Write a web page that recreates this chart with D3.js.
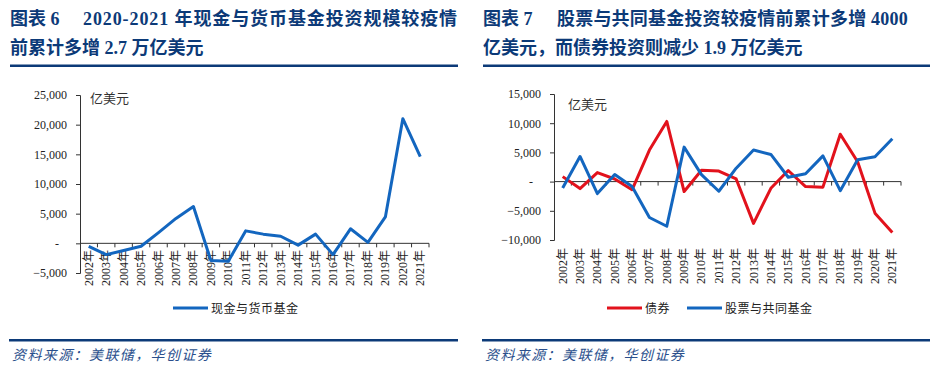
<!DOCTYPE html>
<html>
<head>
<meta charset="utf-8">
<script src="https://cdn.jsdelivr.net/npm/d3@7"></script>
<style>
  body { margin: 0; background: #fff; }
  svg { display: block; }
  text { font-family: "Liberation Serif", "Noto Sans CJK SC", serif; }
</style>
</head>
<body>
<svg width="938" height="379"></svg>
<script>
var years = ["2002年","2003年","2004年","2005年","2006年","2007年","2008年","2009年","2010年","2011年",
             "2012年","2013年","2014年","2015年","2016年","2017年","2018年","2019年","2020年","2021年"];

// 现金与货币基金 (亿美元)
var cashFunds = [-500, -1900, -1200, -500, 1800, 4200, 6200, -2900, -3000, 2100,
                 1550, 1200, -300, 1550, -1900, 2450, 150, 4450, 21000, 14600];
// 债券
var bonds = [850, -1200, 1550, 450, -1400, 5400, 10300, -1700, 1950, 1800,
             450, -7150, -1150, 1900, -850, -950, 8100, 3400, -5400, -8700];
// 股票与共同基金
var equities = [-1100, 4300, -2050, 1200, -850, -6150, -7650, 5900, 1200, -1650,
                2300, 5400, 4650, 750, 1350, 4400, -1550, 3750, 4250, 7350];

var leftTicks = [-5000, 0, 5000, 10000, 15000, 20000, 25000];
var rightTicks = [-10000, -5000, 0, 5000, 10000, 15000];

var navy = "#0c3a78", blue = "#1366bf", red = "#e2121c";

var svg = d3.select("svg");

// headings, rules, source
function header(x0, x1, num, restX, spacing, line1, line2) {
  var g = svg.append("g").attr("fill", navy).style("font-weight", "bold").style("font-size", "18px");
  g.append("text").attr("x", x0).attr("y", 25).text("图表 " + num);
  g.append("text").attr("x", restX).attr("y", 25).style("letter-spacing", spacing + "px").text(line1);
  g.append("text").attr("x", x0).attr("y", 54).text(line2);
  svg.append("rect").attr("x", x0).attr("y", 64.5).attr("width", x1 - x0).attr("height", 2.5).attr("fill", navy);
  svg.append("rect").attr("x", x0 - 1).attr("y", 339).attr("width", x1 - x0 + 1).attr("height", 2.5).attr("fill", navy);
  svg.append("text").attr("x", x0 + 2).attr("y", 360)
    .attr("fill", "#2a4f8c").style("font-style", "italic").style("font-size", "14px")
    .style("letter-spacing", "1.4px")
    .text("资料来源：美联储，华创证券");
}

header(10, 458, "6", 83, 0.9, "2020-2021 年现金与货币基金投资规模较疫情", "前累计多增 2.7 万亿美元");
header(483, 930, "7", 557, 0.2, "股票与共同基金投资较疫情前累计多增 4000", "亿美元，而债券投资则减少 1.9 万亿美元");

function chart(opt) {
  var x = d3.scaleBand().domain(years).range(opt.xRange).padding(0);
  var y = d3.scaleLinear().domain(opt.yDomain).range(opt.yRange);
  var g = svg.append("g");

  // y axis
  var yAxis = d3.axisLeft(y).tickValues(opt.ticks).tickSize(4).tickPadding(9)
    .tickFormat(function(d) { return d === 0 ? "-" : d3.format(",")(d); });
  var ya = g.append("g").attr("transform", "translate(" + opt.xRange[0] + ",0)").call(yAxis);
  ya.select(".domain").attr("stroke", "#333");
  ya.selectAll(".tick line").attr("stroke", "#333");
  ya.selectAll("text").style("font-size", "12px").attr("fill", "#222")
    .style("font-family", "'Liberation Serif', serif");
  ya.selectAll(".tick").filter(function(d) { return d === 0; }).select("text").attr("dx", -8);

  // x axis at zero, ticks between categories
  var y0 = y(0);
  g.append("line").attr("x1", opt.xRange[0]).attr("x2", opt.xRange[1])
    .attr("y1", y0).attr("y2", y0).attr("stroke", "#333");
  var bounds = years.map(function(d) { return x(d) + x.bandwidth(); });
  g.selectAll(".xt").data(bounds).enter().append("line")
    .attr("x1", function(d) { return d; }).attr("x2", function(d) { return d; })
    .attr("y1", y0).attr("y2", y0 + 4).attr("stroke", "#333");
  g.selectAll(".xl").data(years).enter().append("text")
    .attr("transform", function(d) {
      return "translate(" + (x(d) + x.bandwidth() / 2 + 4) + "," + opt.labelY + ")rotate(-90)";
    })
    .attr("text-anchor", "end").style("font-size", "12px").attr("fill", "#222")
    .text(function(d) { return d; });

  // unit
  g.append("text").attr("x", opt.unitX).attr("y", opt.unitY)
    .style("font-family", "'Noto Sans CJK SC', sans-serif").style("font-size", "13px").attr("fill", "#333")
    .text("亿美元");

  var line = d3.line()
    .x(function(d, i) { return x(years[i]) + x.bandwidth() / 2; })
    .y(function(d) { return y(d); });

  opt.series.forEach(function(s) {
    g.append("path").datum(s.values).attr("d", line)
      .attr("fill", "none").attr("stroke", s.color).attr("stroke-width", 3)
      .attr("stroke-linejoin", "round");
  });

  // legend
  opt.series.forEach(function(s) {
    g.append("line").attr("x1", s.lx).attr("x2", s.lx + 35).attr("y1", 308).attr("y2", 308)
      .attr("stroke", s.color).attr("stroke-width", 3);
    g.append("text").attr("x", s.lx + 38).attr("y", 312.5)
      .style("font-family", "'Noto Sans CJK SC', sans-serif").style("font-size", "12px")
      .style("letter-spacing", "0.5px").attr("fill", "#222")
      .text(s.name);
  });
}

chart({
  xRange: [80, 429], yDomain: [-5000, 25000], yRange: [273, 95], ticks: leftTicks,
  labelY: 250, unitX: 90, unitY: 103,
  series: [{ name: "现金与货币基金", values: cashFunds, color: blue, lx: 173 }]
});

chart({
  xRange: [554, 901], yDomain: [-10000, 15000], yRange: [240, 94], ticks: rightTicks,
  labelY: 248, unitX: 568, unitY: 109,
  series: [
    { name: "债券", values: bonds, color: red, lx: 607 },
    { name: "股票与共同基金", values: equities, color: blue, lx: 687 }
  ]
});
</script>
</body>
</html>
